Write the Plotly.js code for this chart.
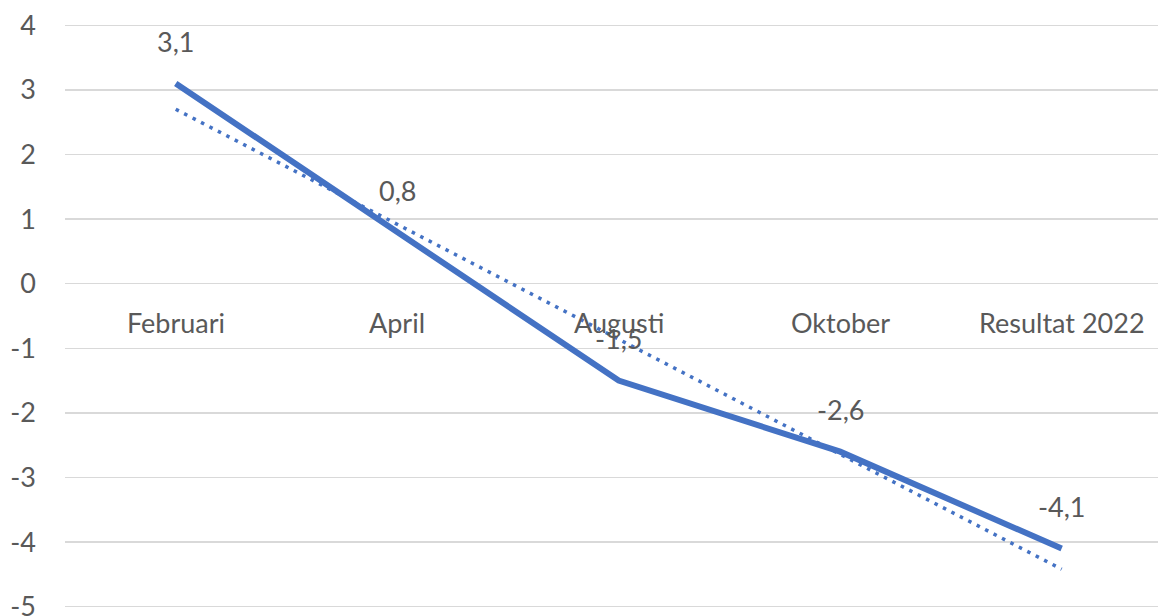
<!DOCTYPE html>
<html>
<head>
<meta charset="utf-8">
<script src="https://cdn.plot.ly/plotly-3.0.1.min.js"></script>
<style>html,body{margin:0;padding:0;background:#fff;}#chart{width:1158px;height:616px;}</style>
</head>
<body>
<div id="chart"></div>
<script>
const categories = ["Februari", "April", "Augusti", "Oktober", "Resultat 2022"];
const values = [3.1, 0.8, -1.5, -2.6, -4.1];
const trendValues = [2.7, 0.92, -0.86, -2.64, -4.42];
const yTicks = [4, 3, 2, 1, 0, -1, -2, -3, -4, -5];

const FONT = "Lato, 'Open Sans', sans-serif";
const TXT = "#595959";
const BLUE = "#4472C4";
const FS = 27;

const fmt = v => String(v).replace('.', ',');

const traces = [
  {
    x: categories, y: trendValues, type: 'scatter', mode: 'lines',
    line: {color: BLUE, width: 3.5, dash: '3.5px,6px'},
    hoverinfo: 'skip', showlegend: false
  },
  {
    x: categories, y: values, type: 'scatter', mode: 'lines',
    line: {color: BLUE, width: 6},
    showlegend: false
  }
];

const annotations = [];
categories.forEach((c, i) => {
  annotations.push({
    x: c, y: 0, xref: 'x', yref: 'y', text: c, showarrow: false,
    yshift: -39, font: {family: FONT, size: FS, color: TXT}
  });
  annotations.push({
    x: c, y: values[i], xref: 'x', yref: 'y', text: fmt(values[i]), showarrow: false,
    yshift: 42, font: {family: FONT, size: FS, color: TXT}
  });
});

const layout = {
  width: 1158, height: 616,
  margin: {l: 65, r: 0, t: 24, b: 8},
  paper_bgcolor: '#fff', plot_bgcolor: '#fff',
  font: {family: FONT, color: TXT},
  xaxis: {
    type: 'category', range: [-0.5, 4.435],
    showticklabels: false, showgrid: false, zeroline: false, showline: false, ticks: ''
  },
  yaxis: {
    range: [-5.02, 4.02], tickvals: yTicks, ticktext: yTicks.map(String),
    showgrid: true, gridcolor: '#d9d9d9', gridwidth: 1.5,
    zeroline: false, showline: false, ticks: '',
    ticklabelstandoff: 28, ticklabeloverflow: 'allow',
    tickfont: {family: FONT, size: FS, color: TXT}
  },
  annotations: annotations
};

Plotly.newPlot('chart', traces, layout, {displayModeBar: false, staticPlot: true});
</script>
</body>
</html>
